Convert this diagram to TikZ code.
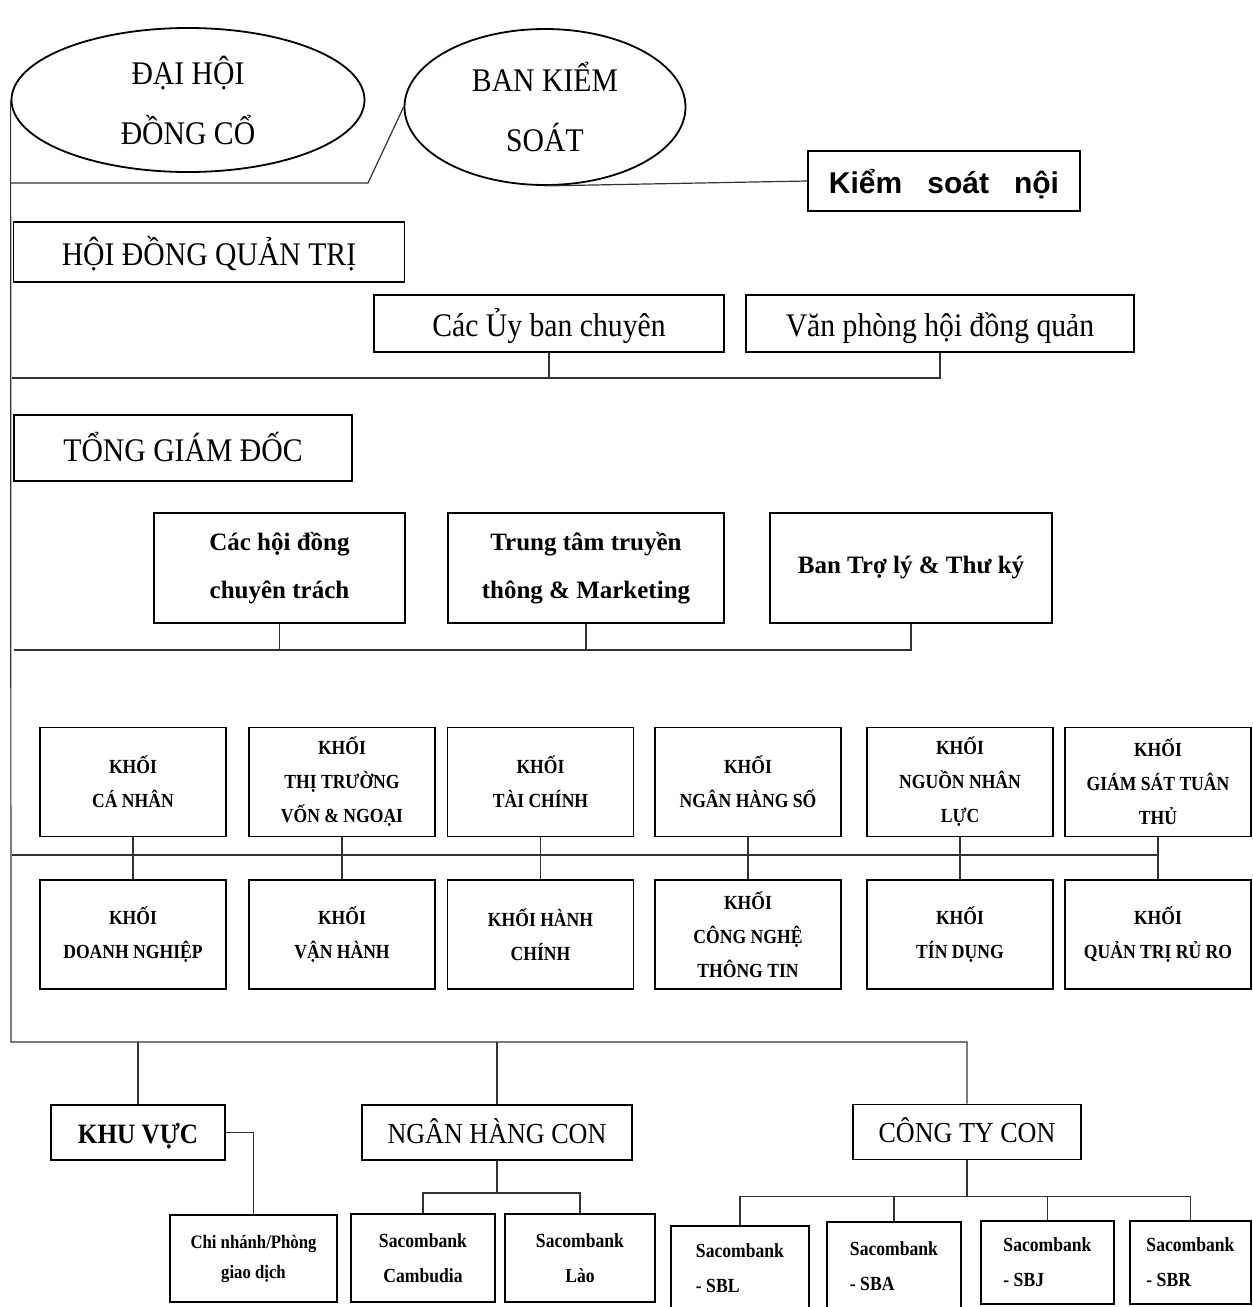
\documentclass[tikz,border=0pt]{standalone}
\usepackage{fontspec}
\setmainfont{Liberation Serif}
\setsansfont{Liberation Sans}
\newfontfamily\wideserif[FakeStretch=0.9]{Liberation Serif}
\newfontfamily\narrowserif[FakeStretch=0.88]{Liberation Serif}
\usetikzlibrary{shapes.geometric}

\tikzset{
  box/.style={draw, line width=1.8pt, inner sep=0pt, align=center},
  oval/.style={draw, ellipse, line width=1.8pt, inner sep=0pt, align=center,
    font=\wideserif\fontsize{33}{60}\selectfont},
  link/.style={line width=1.2pt, draw=black!80},
  bigbox/.style={box, text height=26, text depth=0, font=\wideserif\fontsize{33}{40}\selectfont},
  unitbox/.style={box, font=\bfseries\fontsize{25}{48}\selectfont},
  khoi/.style={box, minimum width=186, minimum height=109,
    font=\narrowserif\bfseries\fontsize{20}{34}\selectfont},
  branchbox/.style={box, minimum height=55, text height=21, text depth=0,
    font=\wideserif\fontsize{29}{34}\selectfont},
  subbox/.style={box, font=\narrowserif\bfseries\fontsize{20}{35}\selectfont}
}

\begin{document}
\begin{tikzpicture}[x=1pt, y=-1pt]
  \useasboundingbox (0,0) rectangle (1253,1307);

  % dai hoi, ban kiem soat
  \node[oval, minimum width=353, minimum height=144] (dhdc) at (188,100) {ĐẠI HỘI\\ĐỒNG CỔ};
  \node[oval, minimum width=281, minimum height=156] (bks) at (545,107) {BAN KIỂM\\SOÁT};
  \node[box, minimum width=272, minimum height=60, text height=24, text depth=0,
    font=\sffamily\bfseries\fontsize{30}{34}\selectfont]
    (ksn) at (944,181) {Kiểm\hspace{25pt}soát\hspace{25pt}nội};

  % hoi dong quan tri
  \node[bigbox, minimum width=391, minimum height=60] (hdqt) at (209,252) {HỘI ĐỒNG QUẢN TRỊ};
  \node[bigbox, minimum width=350, minimum height=57] (uyban) at (549,323.5) {Các Ủy ban chuyên};
  \node[bigbox, minimum width=388, minimum height=57] (vphd) at (940,323.5) {Văn phòng hội đồng quản};

  % tong giam doc
  \node[bigbox, minimum width=338, minimum height=66] (tgd) at (183,448) {TỔNG GIÁM ĐỐC};
  \node[unitbox, minimum width=251, minimum height=110] (hdct) at (279.5,568) {Các hội đồng\\chuyên trách};
  \node[unitbox, minimum width=276, minimum height=110] (ttmk) at (586,568) {Trung tâm truyền\\thông \& Marketing};
  \node[unitbox, minimum width=282, minimum height=110] (trly) at (911,568) {Ban Trợ lý \& Thư ký};

  % cac khoi
  \node[khoi] (k1) at (133,782) {KHỐI\\CÁ NHÂN};
  \node[khoi] (k2) at (342,782) {KHỐI\\THỊ TRƯỜNG\\VỐN \& NGOẠI};
  \node[khoi] (k3) at (540.5,782) {KHỐI\\TÀI CHÍNH};
  \node[khoi] (k4) at (748,782) {KHỐI\\NGÂN HÀNG SỐ};
  \node[khoi] (k5) at (960,782) {KHỐI\\NGUỒN NHÂN\\LỰC};
  \node[khoi] (k6) at (1158,782) {KHỐI\\GIÁM SÁT TUÂN\\THỦ};
  \node[khoi] (b1) at (133,934.5) {KHỐI\\DOANH NGHIỆP};
  \node[khoi] (b2) at (342,934.5) {KHỐI\\VẬN HÀNH};
  \node[khoi] (b3) at (540.5,934.5) {KHỐI HÀNH\\CHÍNH};
  \node[khoi] (b4) at (748,934.5) {KHỐI\\CÔNG NGHỆ\\THÔNG TIN};
  \node[khoi] (b5) at (960,934.5) {KHỐI\\TÍN DỤNG};
  \node[khoi] (b6) at (1158,934.5) {KHỐI\\QUẢN TRỊ RỦ RO};

  % khu vuc, ngan hang con, cong ty con
  \node[branchbox, minimum width=174, font=\wideserif\bfseries\fontsize{28}{34}\selectfont] (kv) at (138,1132.5) {KHU VỰC};
  \node[branchbox, minimum width=270] (nhc) at (497,1132.5) {NGÂN HÀNG CON};
  \node[branchbox, minimum width=228] (cty) at (967,1132) {CÔNG TY CON};

  \node[subbox, minimum width=167, minimum height=87, font=\narrowserif\bfseries\fontsize{19}{30}\selectfont]
    (cngd) at (253.5,1258.5) {Chi nhánh/Phòng\\giao dịch};
  \node[subbox, minimum width=144, minimum height=88] (scc) at (423,1258) {Sacombank\\Cambudia};
  \node[subbox, minimum width=150, minimum height=88] (scl) at (580,1258) {Sacombank\\Lào};
  \node[subbox, align=left, minimum width=138, minimum height=84] (sbl) at (740,1268) {Sacombank\\- SBL};
  \node[subbox, align=left, minimum width=134, minimum height=88] (sba) at (894,1266) {Sacombank\\- SBA};
  \node[subbox, align=left, minimum width=133, minimum height=83] (sbj) at (1047.5,1262.5) {Sacombank\\- SBJ};
  \node[subbox, align=left, minimum width=121, minimum height=83] (sbr) at (1190.5,1262.5) {Sacombank\\- SBR};

  % duong noi
  \coordinate (bend) at (368,183);
  \coordinate (hdqtbus) at (12,378);
  \coordinate (tgdbus) at (14,650);
  \coordinate (khoibus) at (12,855);
  \coordinate (spine) at (11,1042);

  \draw[link] (dhdc.west) -- (spine) -| (cty.north);
  \draw[link] (bend -| dhdc.west) -- (bend) -- (bks.west);
  \draw[link] (bks.south) -- (ksn.west);

  \draw[link] (hdqtbus) -| (vphd.south);
  \draw[link] (uyban.south) -- (uyban.south |- hdqtbus);

  \draw[link] (tgdbus) -| (trly.south);
  \draw[link] (hdct.south) -- (hdct.south |- tgdbus);
  \draw[link] (ttmk.south) -- (ttmk.south |- tgdbus);

  \draw[link] (khoibus) -- (khoibus -| k6.south);
  \foreach \k/\b in {k1/b1, k2/b2, k3/b3, k4/b4, k5/b5, k6/b6}
    \draw[link] (\k.south) -- (\b.north);

  \draw[link] (kv.north) -- (kv.north |- spine);
  \draw[link] (nhc.north) -- (nhc.north |- spine);
  \draw[link] (kv.east) -| (cngd.north);

  \draw[link] (nhc.south) -- ++(0,32) coordinate (nhcbus);
  \draw[link] (scc.north) |- (nhcbus) -| (scl.north);

  \draw[link] (cty.south) -- ++(0,36) coordinate (ctybus);
  \draw[link] (sbl.north) |- (ctybus) -| (sbr.north);
  \draw[link] (sba.north) -- (sba.north |- ctybus);
  \draw[link] (sbj.north) -- (sbj.north |- ctybus);
\end{tikzpicture}
\end{document}
